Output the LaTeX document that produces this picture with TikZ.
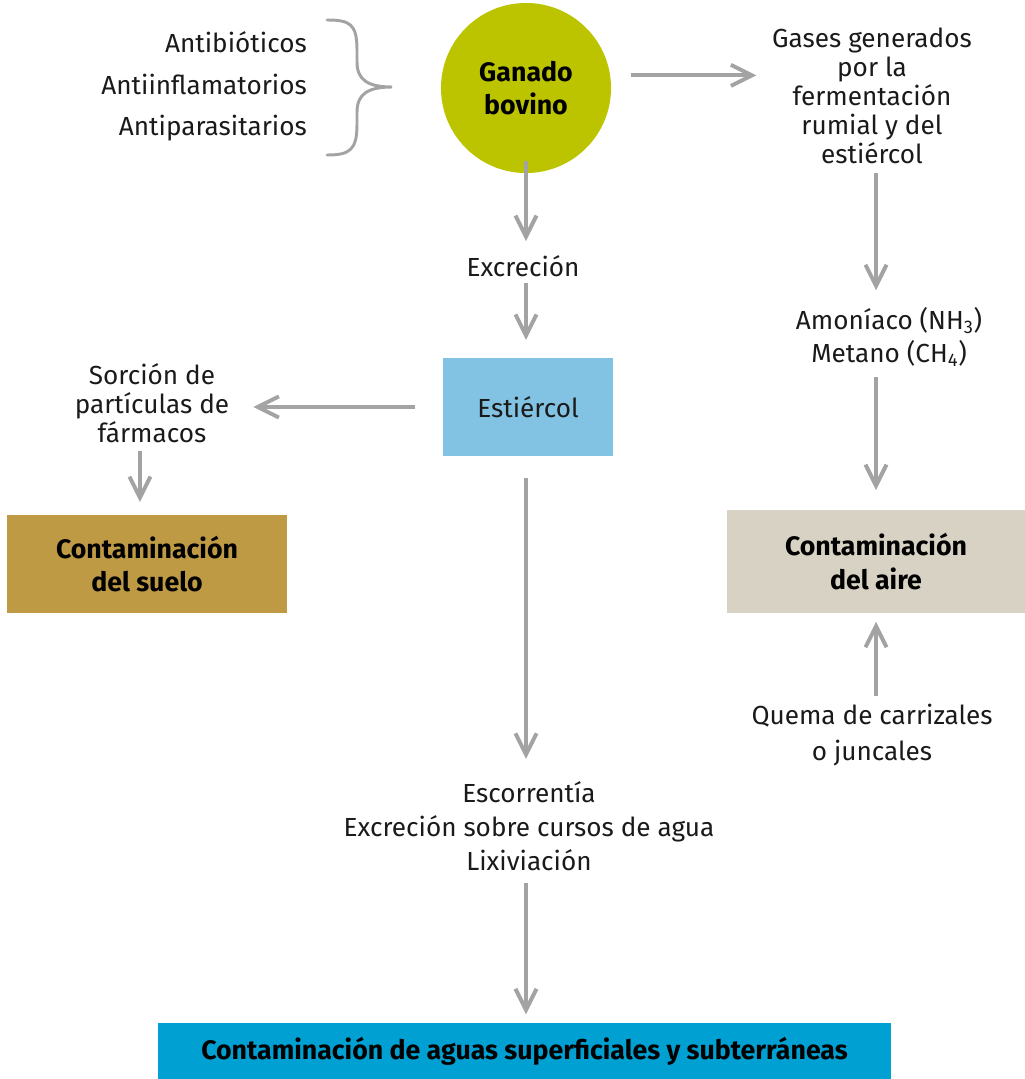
\documentclass[tikz,border=0pt]{standalone}
\usepackage{fontspec}
\setmainfont{Fira Sans}
\usetikzlibrary{arrows.meta, positioning, calc}
\definecolor{BovinoGreen}{HTML}{BCC400}
\definecolor{EstiercolBlue}{HTML}{82C2E2}
\definecolor{SueloOchre}{HTML}{BF9A45}
\definecolor{AireGrey}{HTML}{D8D2C4}
\definecolor{AguaBlue}{HTML}{00A0D3}
\definecolor{FlowGrey}{HTML}{A3A3A3}
\definecolor{InkBlack}{HTML}{1A1A1A}

\begin{document}
\begin{tikzpicture}[
    x=0.025cm, y=-0.025cm,
    font=\fontsize{18.6}{20.6}\selectfont,
    txt/.style={align=center, inner sep=0pt, text=InkBlack},
    blk/.style={align=center, inner sep=0pt, text=black,
        font=\fontsize{19}{24}\selectfont\bfseries},
    flow/.style={-{Straight Barb[length=15pt, width=15pt]}, line width=2.8pt, FlowGrey},
]
\useasboundingbox (0,0) rectangle (1025,1079);

% ================= ARRIBA: ganado y farmacos =================
\node[circle, fill=BovinoGreen, minimum size=4.25cm, blk] (ganado) at (526,88) {Ganado\\bovino};
\node[txt, anchor=east] (antib) at (307,42) {Antibióticos};
\node[txt, anchor=east] (antii) at (307,84) {Antiinflamatorios};
\node[txt, anchor=east] (antip) at (307,128) {Antiparasitarios};
% llave
\draw[FlowGrey, line width=2.1pt, line cap=round]
    (327,20) .. controls (350,20) and (357,24) .. (357,50) -- (357,62)
    .. controls (357,80) and (368,87) .. (392,87)
    .. controls (368,87) and (357,94) .. (357,112) -- (357,124)
    .. controls (357,150) and (350,155) .. (327,155);

% ================= CENTRO: estiercol =================
\node[txt] (excr) at (523,266) {Excreción};
\node[fill=EstiercolBlue, minimum width=4.25cm, minimum height=2.425cm,
      inner sep=0pt, text=InkBlack] (estiercol) at (528,407) {Estiércol};
\node[txt, font=\fontsize{18.6}{24}\selectfont] (escorr) at (529,826)
    {Escorrentía\\Excreción sobre cursos de agua\\Lixiviación};
\node[blk, fill=AguaBlue, minimum width=18.325cm, minimum height=1.4cm] (aguas) at (524.5,1051)
    {Contaminación de aguas superficiales y subterráneas};
\draw[flow, shorten <=-9pt, shorten >=10pt] (ganado.south) -- (excr.north -| ganado.south);
\draw[flow, shorten <=4pt, shorten >=13pt] (excr.south -| ganado.south) -- (estiercol.north -| ganado.south);
\draw[flow, shorten <=16pt, shorten >=16pt] (estiercol.south -| ganado.south) -- (escorr.north -| ganado.south);
\draw[flow, shorten <=9pt, shorten >=6pt] (escorr.south -| ganado.south) -- (aguas.north -| ganado.south);

% ================= IZQUIERDA: suelo =================
\node[txt] (sorcion) at (152,403) {Sorción de\\partículas de\\fármacos};
\node[blk, fill=SueloOchre, minimum width=7cm, minimum height=2.45cm] (suelo) at (147,564)
    {Contaminación\\del suelo};
\draw[flow, shorten <=20pt, shorten >=17pt] (estiercol.west) -- (sorcion.east |- estiercol.west);
\draw[flow, shorten <=6pt, shorten >=9pt] ([xshift=-5pt]sorcion.south -| suelo.north) -- ([xshift=-5pt]suelo.north);

% ================= DERECHA: aire =================
\node[txt] (gases) at (872,96) {Gases generados\\por la\\fermentación\\rumial y del\\estiércol};
\node[txt, font=\fontsize{18.6}{23.5}\selectfont] (amoniaco) at (889,337)
    {Amoníaco (NH\textsubscript{3})\\Metano (CH\textsubscript{4})};
\node[blk, fill=AireGrey, minimum width=7.45cm, minimum height=2.575cm] (aire) at (876,561.5)
    {Contaminación\\del aire};
\node[txt, font=\fontsize{18.6}{25}\selectfont] (quema) at (872,735) {Quema de carrizales\\o juncales};
\draw[flow, shorten <=14pt, shorten >=11pt] ([yshift=9pt]ganado.east) -- ([yshift=9pt]ganado.east -| gases.west);
\draw[flow, shorten <=6pt, shorten >=12pt] (gases.south -| aire.north) -- (amoniaco.north -| aire.north);
\draw[flow, shorten <=7pt, shorten >=14pt] (amoniaco.south -| aire.north) -- (aire.north);
\draw[flow, shorten <=6pt, shorten >=6pt] (quema.north -| aire.south) -- (aire.south);

\end{tikzpicture}
\end{document}
